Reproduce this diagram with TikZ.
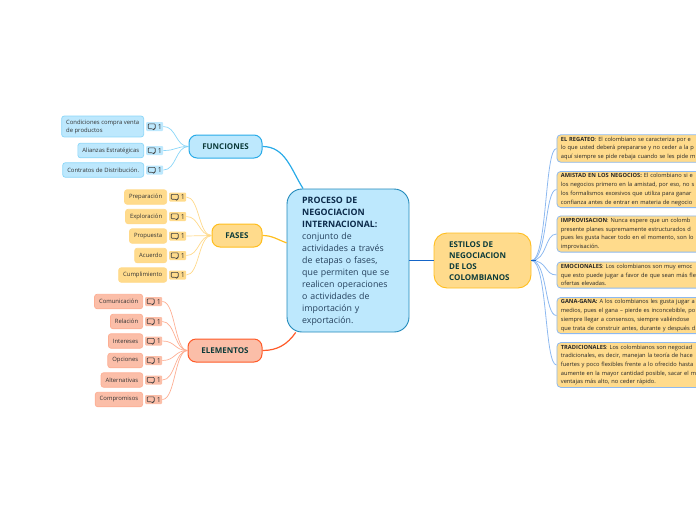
\documentclass[tikz,border=0pt]{standalone}
\usepackage{fontspec}
\setmainfont{Open Sans}
\definecolor{bluefill}{HTML}{BDE8FD}
\definecolor{blueline}{HTML}{29ABE8}
\definecolor{bluelite}{HTML}{8AD6F8}
\definecolor{orgfill}{HTML}{FFDB8C}
\definecolor{orgline}{HTML}{FFBE1E}
\definecolor{orglite}{HTML}{FFD98A}
\definecolor{redfill}{HTML}{FBBEA8}
\definecolor{redline}{HTML}{FF5A28}
\definecolor{redlite}{HTML}{FDAE93}
\definecolor{darkgreen}{HTML}{0C3B3A}
\definecolor{deepblue}{HTML}{1565C8}
\definecolor{fanblue}{HTML}{8DB9F0}
\definecolor{navy}{HTML}{0B2A4A}
\definecolor{bodyblue}{HTML}{24405C}
\tikzset{
	topic/.style={draw=#1,line width=1pt,rounded corners=8pt,font=\fontsize{8}{10}\selectfont\bfseries,text=darkgreen,minimum height=23pt,inner sep=0pt},
	leaf/.style={draw=#1,line width=0.7pt,rounded corners=2.5pt,anchor=east,font=\fontsize{5.9}{8}\selectfont,text=black!80,align=left,inner xsep=4.5pt,inner ysep=3.5pt,minimum height=14.5pt},
	badge/.style={rounded corners=1pt,anchor=west,minimum width=17pt,minimum height=9pt,inner sep=0pt,font=\fontsize{7}{7}\selectfont,text=black!80,text width=14.5pt,align=right},
	detail/.style={draw=fanblue,line width=0.8pt,fill=orgfill,rounded corners=4pt,anchor=west,text width=190pt,font=\fontsize{5.7}{8.7}\selectfont,text=black!85,align=left,inner xsep=4pt,inner ysep=2.2pt},
	bubble/.style={draw=black!75,line width=0.6pt,rounded corners=0.8pt}
}
\newcommand{\bubbleicon}[1]{\draw[bubble] ([xshift=-6.5pt,yshift=2.6pt]#1.center) -- ([xshift=0.5pt,yshift=2.6pt]#1.center) -- ([xshift=0.5pt,yshift=-2.2pt]#1.center) -- ([xshift=-0.8pt,yshift=-2.2pt]#1.center) -- ([xshift=-0.8pt,yshift=-3.4pt]#1.center) -- ([xshift=-2.6pt,yshift=-2.2pt]#1.center) -- ([xshift=-6.5pt,yshift=-2.2pt]#1.center) -- cycle;}
\begin{document}
\begin{tikzpicture}[x=1pt,y=-1pt]
		\useasboundingbox (0,0) rectangle (696,520);
		\clip (0,0) rectangle (696,520);
		\node[draw=blueline!80!black,line width=0.9pt,fill=bluefill,rounded corners=15pt,minimum width=122pt,minimum height=143pt] (main) at (348,260.5) {};
		\node[anchor=north west,inner sep=0pt,text width=104pt,align=left,font=\fontsize{8.8}{12}\selectfont,text=bodyblue] (maintext) at (302,196.5) {\textbf{\textcolor{navy}{PROCESO DE\\NEGOCIACION\\INTERNACIONAL:}}\\conjunto de\\actividades a través\\de etapas o fases,\\que permiten que se\\realicen operaciones\\o actividades de\\importación y\\exportación.};
		\node[topic=blueline,fill=bluefill,minimum width=73pt] (funciones) at (225.5,146.5) {FUNCIONES};
		\node[topic=orgline,fill=orgfill,minimum width=50pt] (fases) at (237,235.5) {FASES};
		\node[topic=redline,fill=redfill,minimum width=74pt] (elementos) at (225,350.5) {ELEMENTOS};
		\node[draw=orgline,line width=0.9pt,fill=orgfill,rounded corners=13pt,minimum width=97pt,minimum height=55pt] (estilos) at (482.5,260.5) {};
		\node[anchor=north west,inner sep=0pt,align=left,font=\fontsize{8}{11}\selectfont\bfseries,text=darkgreen] (estilostext) at (449,241) {ESTILOS DE\\NEGOCIACION\\DE LOS\\COLOMBIANOS};
		\draw[line width=1.2pt,blueline] (funciones.east) to[out=0,in=122] (main.122);
		\draw[line width=1.2pt,orgline] (fases.east) to[out=0,in=160] (main.164);
		\draw[line width=1.2pt,redline] (elementos.east) to[out=0,in=235] (main.234);
		\draw[line width=1.2pt,deepblue] (main.east) -- (estilos.west);
		\foreach \n/\x/\y/\txt in {f1/144/126.5/{Condiciones compra venta\\de productos},f2/144/150.5/{Alianzas Estratégicas},f3/144/170/{Contratos de Distribución.}}{
			\node[leaf=bluelite,fill=bluefill] (\n) at (\x,\y) {\txt};
			\node[badge,fill=bluefill] (\n b) at (\x+2,\y) {1};
			\bubbleicon{\n b}
			\draw[bluelite,line width=0.7pt] (funciones.west) .. controls +(-13,0) and +(13,0) .. (\n b.east);
		}
		\foreach \n/\y/\txt in {a1/197/Preparación,a2/216.5/Exploración,a3/236/Propuesta,a4/255.5/Acuerdo,a5/275/Cumplimiento}{
			\node[leaf=orglite,fill=orgfill] (\n) at (167,\y) {\txt};
			\node[badge,fill=orgfill] (\n b) at (169,\y) {1};
			\bubbleicon{\n b}
			\draw[orglite,line width=0.7pt] (fases.west) .. controls +(-13,0) and +(13,0) .. (\n b.east);
		}
		\foreach \n/\y/\txt in {e1/301.5/Comunicación,e2/321.5/Relación,e3/341/Intereses,e4/360.5/Opciones,e5/380/Alternativas,e6/399.5/Compromisos}{
			\node[leaf=redlite,fill=redfill] (\n) at (143,\y) {\txt};
			\node[badge,fill=redfill] (\n b) at (145,\y) {1};
			\bubbleicon{\n b}
			\draw[redlite,line width=0.7pt] (elementos.west) .. controls +(-13,0) and +(13,0) .. (\n b.east);
		}
		\foreach \n/\y/\txt in {
			d1/148.5/{\textbf{EL REGATEO}: El colombiano se caracteriza por e\\lo que usted deberá prepararse y no ceder a la p\\aquí siempre se pide rebaja cuando se les pide m},
			d2/189.5/{\textbf{AMISTAD EN LOS NEGOCIOS:} El colombiano si e\\los negocios primero en la amistad, por eso, no s\\los formalismos excesivos que utiliza para ganar\\confianza antes de entrar en materia de negocio},
			d3/234/{\textbf{IMPROVISACION}: Nunca espere que un colomb\\presente planes supremamente estructurados d\\pues les gusta hacer todo en el momento, son lo\\improvisación.},
			d4/275/{\textbf{EMOCIONALES}: Los colombianos son muy emoc\\que esto puede jugar a favor de que sean más fle\\ofertas elevadas.},
			d5/315.5/{\textbf{GANA-GANA:} A los colombianos les gusta jugar a\\medios, pues el gana – pierde es inconcebible, po\\siempre llegar a consensos, siempre valiéndose\\que trata de construir antes, durante y después d},
			d6/365/{\textbf{TRADICIONALES}: Los colombianos son negociad\\tradicionales, es decir, manejan la teoría de hace\\fuertes y poco flexibles frente a lo ofrecido hasta\\aumente en la mayor cantidad posible, sacar el m\\ventajas más alto, no ceder rápido.}}{
			\node[detail] (\n) at (556.5,\y) {\txt};
			\draw[fanblue,line width=0.8pt] (estilos.east) .. controls +(16,0) and +(-12,0) .. (\n.west);
		}
		\draw[deepblue,line width=1.2pt] (estilos.east) -- +(5,0);
\end{tikzpicture}
\end{document}
